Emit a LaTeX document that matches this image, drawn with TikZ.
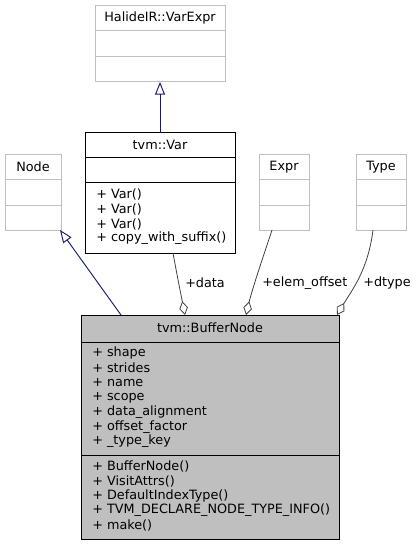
\documentclass[tikz,border=0pt]{standalone}
\usepackage{fontspec}
\setmainfont{DejaVu Sans}
\usepackage{tikz}
\usepackage{xcolor}
\usetikzlibrary{arrows.meta}
\definecolor{edgeblue}{HTML}{191970}
\definecolor{edgegrey}{HTML}{404040}
\definecolor{boxgrey}{HTML}{BFBFBF}
\tikzset{
  umlbox/.style={draw=black,fill=white,line width=0.75pt},
  extbox/.style={draw=boxgrey,fill=white,line width=0.75pt},
  curbox/.style={draw=black,fill=boxgrey,line width=0.75pt},
  member/.style={anchor=west,inner sep=0pt},
  title/.style={inner sep=0pt},
  inherit/.style={draw=edgeblue,line width=0.7pt,-{Triangle[open,length=9.5pt,width=7.5pt]}},
  usage/.style={draw=edgegrey,line width=0.6pt,-{Diamond[open,length=10.5pt,width=6.5pt]}},
}
\begin{document}
\begin{tikzpicture}[x=0.75pt,y=-0.75pt,font=\fontsize{9.6}{11}\selectfont]
    \useasboundingbox (0,0) rectangle (416,545);
    % HalideIR::VarExpr
    \draw[extbox] (95,6) rectangle (225,82);
    \draw[boxgrey,line width=0.75pt] (95,31)--(225,31) (95,57)--(225,57);
    \node[title] (varexpr) at (160,18){HalideIR::VarExpr};
    \coordinate (varexprb) at (160,82);
    % tvm::Var
    \draw[umlbox] (85,133) rectangle (235,253);
    \draw[line width=0.75pt] (85,158)--(235,158) (85,183)--(235,183);
    \node[title] (var) at (160,145){tvm::Var};
    \foreach \y/\t in {194/Var(),209/Var(),224/Var(),238/copy\_with\_suffix()}
      \node[member] at (96,\y){+ \t};
    \coordinate (vart) at (160,133);
    \coordinate (varb) at (173,253);
    % Node, Expr, Type
    \draw[extbox] (5,155) rectangle (61,230);
    \draw[boxgrey,line width=0.75pt] (5,180)--(61,180) (5,205)--(61,205);
    \node[title] (node) at (33,167){Node};
    \coordinate (nodeb) at (60,230);
    \draw[extbox] (259,155) rectangle (309,230);
    \draw[boxgrey,line width=0.75pt] (259,180)--(309,180) (259,205)--(309,205);
    \node[title] (expr) at (284,167){Expr};
    \coordinate (exprb) at (272,230);
    \draw[extbox] (356,155) rectangle (406,230);
    \draw[boxgrey,line width=0.75pt] (356,180)--(406,180) (356,205)--(406,205);
    \node[title] (type) at (381,167){Type};
    \coordinate (typeb) at (373,230);
    % tvm::BufferNode
    \draw[curbox] (81,315) rectangle (339,539);
    \draw[line width=0.75pt] (81,342)--(339,342) (81,455)--(339,455);
    \node[title] (buffer) at (210,328){tvm::BufferNode};
    \foreach \y/\t in {353/shape,368/strides,383/name,398/scope,412/data\_alignment,427/offset\_factor,441/\_type\_key}
      \node[member] at (92,\y){+ \t};
    \foreach \y/\t in {466/BufferNode(),481/VisitAttrs(),496/DefaultIndexType(),510/TVM\_DECLARE\_NODE\_TYPE\_INFO(),525/make()}
      \node[member] at (92,\y){+ \t};
    \coordinate (bufin) at (121,315);
    \coordinate (bufdata) at (185,315);
    \coordinate (bufelem) at (246,315);
    \coordinate (buftype) at (337,315);
    % edges
    \draw[inherit] (vart)--(varexprb);
    \draw[inherit] (bufin)--(nodeb);
    \draw[usage] (varb) .. controls (177,275) and (181,295) .. (bufdata);
    \draw[usage] (exprb) .. controls (262,260) and (252,290) .. (bufelem);
    \draw[usage] (typeb) .. controls (368,270) and (352,290) .. (buftype);
    \node[member] (ldata) at (185,283){+data};
    \node[member] (lelem) at (262,283){+elem\_offset};
    \node[member] (ltype) at (363,283){+dtype};
\end{tikzpicture}
\end{document}
